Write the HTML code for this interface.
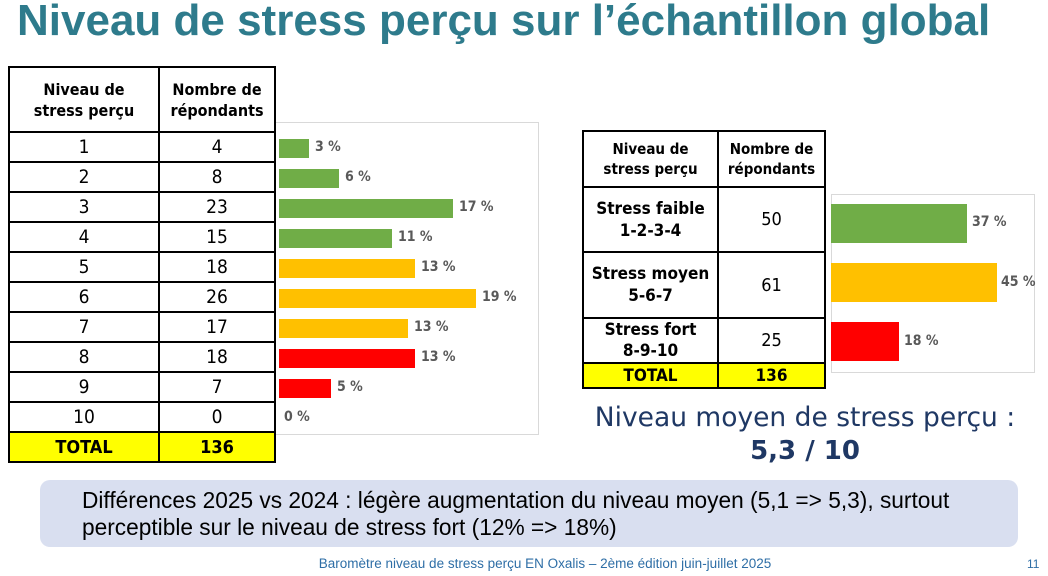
<!DOCTYPE html><html><head><meta charset="utf-8"><style>
body{margin:0;width:1048px;height:576px;background:#fff;position:relative;overflow:hidden;font-family:"Liberation Sans",sans-serif}
.a{position:absolute}
table{position:absolute;border-collapse:collapse;font-family:"DejaVu Sans Condensed","Liberation Sans",sans-serif;background:#fff}
td{border:2px solid #000;text-align:center;padding:0;color:#000}
.h td{font-weight:bold;font-size:16px;line-height:21px}
.t td{background:#ffff00;font-weight:bold;font-size:18px}
.box{position:absolute;border:1px solid #d9d9d9;background:#fff}
.bar{position:absolute;height:19px}
.lb{position:absolute;font-family:"DejaVu Sans Condensed","Liberation Sans",sans-serif;font-weight:bold;font-size:14px;color:#595959}
.g{background:#70ad47}.o{background:#ffc000}.r{background:#ff0000}
</style></head><body>
<div class="a" style="left:17px;top:-4px;font-size:44px;font-weight:bold;color:#2e7b8c;white-space:nowrap">Niveau de stress perçu sur l’échantillon global</div>

<div class="box" style="left:270px;top:122px;width:267px;height:311px"></div>
<div class="bar g" style="left:279px;top:139px;width:30px"></div><div class="lb" style="left:315px;top:139px">3 %</div>
<div class="bar g" style="left:279px;top:169px;width:60px"></div><div class="lb" style="left:345px;top:169px">6 %</div>
<div class="bar g" style="left:279px;top:199px;width:174px"></div><div class="lb" style="left:459px;top:199px">17 %</div>
<div class="bar g" style="left:279px;top:229px;width:113px"></div><div class="lb" style="left:398px;top:229px">11 %</div>
<div class="bar o" style="left:279px;top:259px;width:136px"></div><div class="lb" style="left:421px;top:259px">13 %</div>
<div class="bar o" style="left:279px;top:289px;width:197px"></div><div class="lb" style="left:482px;top:289px">19 %</div>
<div class="bar o" style="left:279px;top:319px;width:129px"></div><div class="lb" style="left:414px;top:319px">13 %</div>
<div class="bar r" style="left:279px;top:349px;width:136px"></div><div class="lb" style="left:421px;top:349px">13 %</div>
<div class="bar r" style="left:279px;top:379px;width:52px"></div><div class="lb" style="left:337px;top:379px">5 %</div>
<div class="lb" style="left:284px;top:409px">0 %</div>

<table style="left:8px;top:66px;width:268px">
<tr class="h" style="height:65px"><td style="width:148px">Niveau de<br>stress perçu</td><td>Nombre de<br>répondants</td></tr>
<tr style="height:30px"><td style="font-size:19px">1</td><td style="font-size:19px">4</td></tr>
<tr style="height:30px"><td style="font-size:19px">2</td><td style="font-size:19px">8</td></tr>
<tr style="height:30px"><td style="font-size:19px">3</td><td style="font-size:19px">23</td></tr>
<tr style="height:30px"><td style="font-size:19px">4</td><td style="font-size:19px">15</td></tr>
<tr style="height:30px"><td style="font-size:19px">5</td><td style="font-size:19px">18</td></tr>
<tr style="height:30px"><td style="font-size:19px">6</td><td style="font-size:19px">26</td></tr>
<tr style="height:30px"><td style="font-size:19px">7</td><td style="font-size:19px">17</td></tr>
<tr style="height:30px"><td style="font-size:19px">8</td><td style="font-size:19px">18</td></tr>
<tr style="height:30px"><td style="font-size:19px">9</td><td style="font-size:19px">7</td></tr>
<tr style="height:30px"><td style="font-size:19px">10</td><td style="font-size:19px">0</td></tr>
<tr class="t" style="height:30px"><td>TOTAL</td><td>136</td></tr>
</table>

<table style="left:582px;top:130px;width:244px">
<tr class="h" style="height:56px"><td style="width:133px;font-size:15px;line-height:20px">Niveau de<br>stress perçu</td><td style="font-size:15px;line-height:20px">Nombre de<br>répondants</td></tr>
<tr style="height:65px"><td style="font-weight:bold;font-size:17px;line-height:22px">Stress faible<br>1-2-3-4</td><td style="font-size:18px">50</td></tr>
<tr style="height:66px"><td style="font-weight:bold;font-size:17px;line-height:22px">Stress moyen<br>5-6-7</td><td style="font-size:18px">61</td></tr>
<tr style="height:45px"><td style="font-weight:bold;font-size:17px;line-height:21px">Stress fort<br>8-9-10</td><td style="font-size:18px">25</td></tr>
<tr class="t" style="height:25px"><td style="font-size:17px">TOTAL</td><td style="font-size:17px">136</td></tr>
</table>

<div class="box" style="left:831px;top:194px;width:202px;height:177px"></div>
<div class="bar g" style="left:831px;top:204px;width:136px;height:39px"></div><div class="lb" style="left:972px;top:214px">37 %</div>
<div class="bar o" style="left:831px;top:263px;width:166px;height:39px"></div><div class="lb" style="left:1001px;top:274px">45 %</div>
<div class="bar r" style="left:831px;top:322px;width:68px;height:39px"></div><div class="lb" style="left:904px;top:333px">18 %</div>

<div class="a" style="left:555px;width:500px;top:402px;text-align:center;font-family:'DejaVu Sans',sans-serif;font-size:26.5px;color:#1f3864;white-space:nowrap">Niveau moyen de stress perçu :</div>
<div class="a" style="left:555px;width:500px;top:436px;text-align:center;font-family:'DejaVu Sans',sans-serif;font-weight:bold;font-size:26px;color:#1f3864">5,3 / 10</div>

<div class="a" style="left:40px;top:480px;width:978px;height:67px;background:#d9dff0;border-radius:10px"></div>
<div class="a" style="left:82px;top:487px;font-size:22.7px;line-height:27px;color:#000;white-space:nowrap">Différences 2025 vs 2024 : légère augmentation du niveau moyen (5,1 =&gt; 5,3), surtout<br>perceptible sur le niveau de stress fort (12% =&gt; 18%)</div>

<div class="a" style="left:0;width:1090px;top:556px;text-align:center;font-size:13.5px;color:#2e6ea6">Baromètre niveau de stress perçu EN Oxalis – 2ème édition juin-juillet 2025</div>
<div class="a" style="left:1027px;top:557px;font-size:12px;color:#2e6ea6">11</div>
</body></html>
